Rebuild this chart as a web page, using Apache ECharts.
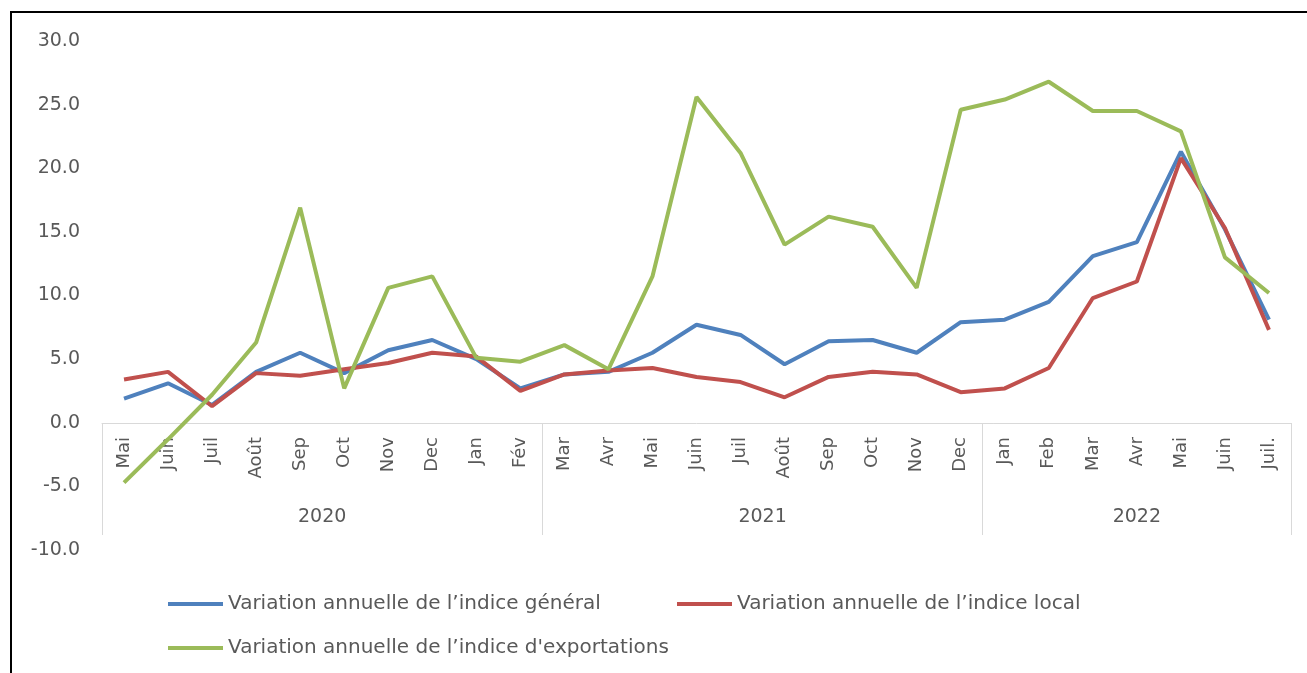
<!DOCTYPE html>
<html>
<head>
    <meta charset="UTF-8">
    <style>
        body { margin: 0; background: #fff; }
        #frame { position: absolute; left: 10px; top: 11px; width: 1320px; height: 700px;
                 border-left: 2px solid #000; border-top: 2px solid #000; }
        #main { position: absolute; left: 0; top: 0; width: 1307px; height: 673px; }
    </style>
</head>
<body>
<div id="frame"></div>
<div id="main"></div>
<script src="https://cdn.jsdelivr.net/npm/echarts@6/dist/echarts.min.js"></script>
<script>
    // mois (axe du bas) et années (second niveau)
    var months = ['Mai', 'Juin', 'Juil', 'Août', 'Sep', 'Oct', 'Nov', 'Dec', 'Jan', 'Fév',
        'Mar', 'Avr', 'Mai', 'Juin', 'Juil', 'Août', 'Sep', 'Oct', 'Nov', 'Dec',
        'Jan', 'Feb', 'Mar', 'Avr', 'Mai', 'Juin', 'Juil.'];
    var years = ['2020', '2021', '2022'];
    var yearSizes = [10, 10, 7];

    var general = [1.9, 3.1, 1.4, 4.0, 5.5, 3.9, 5.7, 6.5, 5.0, 2.7,
        3.8, 4.0, 5.5, 7.7, 6.9, 4.6, 6.4, 6.5, 5.5, 7.9,
        8.1, 9.5, 13.1, 14.2, 21.3, 15.2, 8.1];
    var local = [3.4, 4.0, 1.3, 3.9, 3.7, 4.2, 4.7, 5.5, 5.2, 2.5,
        3.8, 4.1, 4.3, 3.6, 3.2, 2.0, 3.6, 4.0, 3.8, 2.4,
        2.7, 4.3, 9.8, 11.1, 20.8, 15.3, 7.3];
    var exportations = [-4.7, -1.3, 2.2, 6.3, 16.9, 2.7, 10.6, 11.5, 5.1, 4.8,
        6.1, 4.2, 11.5, 25.6, 21.2, 14.0, 16.2, 15.4, 10.6, 24.6,
        25.4, 26.8, 24.5, 24.5, 22.9, 13.0, 10.2];

    var names = ['Variation annuelle de l’indice général',
        'Variation annuelle de l’indice local',
        'Variation annuelle de l’indice d\'exportations'];

    // limites et centres des groupes d'années
    var bounds = [0], centers = [];
    yearSizes.forEach(function (n, i) {
        centers.push(bounds[i] + n / 2);
        bounds.push(bounds[i] + n);
    });

    var font = 'DejaVu Sans';
    var grey = '#595959';

    function legendAt(name, left, top) {
        return {
            data: [name], left: left, top: top,
            icon: 'rect', itemWidth: 55, itemHeight: 4, itemGap: 0,
            textStyle: { fontSize: 20, color: grey, fontFamily: font }
        };
    }

    var myChart = echarts.init(document.getElementById('main'));
    var option = {
        animation: false,
        textStyle: { fontFamily: font },
        grid: [
            // tracé des courbes
            { left: 102, right: 16, top: 41, bottom: 123 },
            // axe des mois, posé sur la ligne du zéro
            { left: 102, right: 16, top: 41, bottom: 250 }
        ],
        legend: [
            legendAt(names[0], 163, 589),
            legendAt(names[1], 672, 589),
            legendAt(names[2], 163, 633)
        ],
        xAxis: [
            { type: 'category', data: months, gridIndex: 0, show: false },
            {
                type: 'category',
                data: months,
                gridIndex: 1,
                axisLine: { onZero: false, lineStyle: { color: '#d9d9d9', width: 1 } },
                axisTick: { show: false },
                axisLabel: { rotate: 90, margin: 14, interval: 0, fontSize: 18, color: grey }
            },
            {
                type: 'value',
                gridIndex: 1,
                min: 0,
                max: bounds[bounds.length - 1],
                position: 'bottom',
                splitLine: { show: false },
                axisLine: { show: false, onZero: false },
                axisTick: {
                    show: true, length: 112, customValues: bounds,
                    lineStyle: { color: '#d9d9d9', width: 1 }
                },
                axisLabel: {
                    customValues: centers, margin: 85, fontSize: 19, color: grey,
                    formatter: function (v) {
                        return years[centers.indexOf(v)];
                    }
                }
            }
        ],
        yAxis: [
            {
                type: 'value',
                gridIndex: 0,
                min: -10,
                max: 30,
                interval: 5,
                splitLine: { show: false },
                axisLine: { show: false },
                axisTick: { show: false },
                axisLabel: {
                    margin: 22, fontSize: 19, color: grey,
                    formatter: function (v) { return v.toFixed(1); }
                }
            },
            { type: 'value', gridIndex: 1, show: false, splitLine: { show: false } }
        ],
        series: [
            {
                name: names[0], type: 'line', data: general, symbol: 'none',
                color: '#4F81BD', lineStyle: { width: 4 }
            },
            {
                name: names[1], type: 'line', data: local, symbol: 'none',
                color: '#C0504D', lineStyle: { width: 4 }
            },
            {
                name: names[2], type: 'line', data: exportations, symbol: 'none',
                color: '#9BBB59', lineStyle: { width: 4 }
            }
        ]
    };
    myChart.setOption(option);
</script>
</body>
</html>
